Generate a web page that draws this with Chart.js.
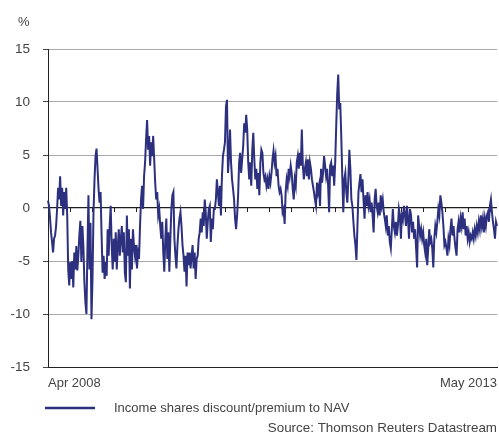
<!DOCTYPE html>
<html>
<head>
<meta charset="utf-8">
<script src="https://cdn.jsdelivr.net/npm/chart.js@4/dist/chart.umd.min.js"></script>
<style>
  html, body { margin: 0; padding: 0; background: #fff; }
  canvas { display: block; }
</style>
</head>
<body>
<canvas id="navChart" width="499" height="435"></canvas>
<script>
// income shares discount/premium to NAV, Apr 2008 - May 2013

const seg2008 = [0.7,0.2,-0.9,-2.3,-3.2,-4.2,-2.9,-2.6,-1.7,-0.1,1.9,0.8,3.0,0.2,1.9,-0.7,1.5,-0.1,1.9,-0.7,
  -5.8,-7.3,-5.1,-6.7,-5.0,-7.5,-4.2,-5.8,-3.6,-5.9,-4.5,-2.6,-1.2,-5.1,-1.7,-3.6,-7.0,-8.9,-10.0,-3.9,
  1.2,-5.8,-1.4,-10.5,-6.7,-0.4,2.7,4.9,5.6,3.7,1.8,0.5,1.5,-2.6,-6.1,-4.5,-6.7,-5.1,-6.4,-2.0,
  -4.5,-1.7,0.2,-3.6,-5.8,-2.9,-5.1,-2.3,-5.8,-3.6,-2.0,-4.5,-2.9,-1.7,-4.2,-2.3,-6.1,-7.0,-0.7,-4.5,
  -2.0,-7.6,-2.9,-5.8,-2.0,-3.6,-4.5];
const seg2009 = [-3.5,-5.7,-4.2,-4.8,-1.7,0.8,2.1,-0.1,3.0,4.3,6.5,8.3,5.5,6.8,4.0,6.2,4.9,6.8,4.6,2.4,
  0.8,1.5,-0.7,-0.1,-1.7,-2.9,-1.3,-4.2,-6.0,-2.9,-1.0,-4.8,-2.3,-6.0,-2.9,-0.1,1.2,1.5,-2.9,-4.5,
  -5.7,-3.5,-2.0,-1.0,-0.4,-1.7,-3.5,-4.5,-6.0,-4.5,-7.4,-4.2,-5.4,-4.2,-5.7,-4.5,-3.5,-5.7,-4.2,-6.7,
  -4.8,-4.5,-2.9,-2.3,-1.0,-2.3,-0.4,-1.7,0.8,-0.4,-2.9,-1.3,-0.1,0.2,-3.2,-1.0,-2.0,-0.1,-0.1,0.8,
  2.7,1.5,0.2,2.1,-0.7,3.0,4.9,5.5,6.2,9.6,10.2];
const seg2010 = [3.3,4.9,7.4,4.3,2.7,1.8,0.8,-1.0,-2.0,-0.7,1.2,4.3,5.2,3.3,4.6,5.8,8.0,7.1,8.8,7.4,
  4.3,2.7,4.3,2.1,5.5,7.1,4.6,2.7,3.7,1.8,3.3,1.2,4.3,5.5,5.2,3.3,2.7,3.0,2.1,2.7,
  1.8,3.0,2.4,3.3,4.6,5.4,4.3,4.9,3.0,3.7,2.1,1.5,1.8,1.2,-0.4,-0.1,-1.5,1.5,2.7,2.1,
  3.7,3.0,4.0,3.3,1.8,0.8,2.7,2.1,4.3,4.9,3.7,5.2,4.0,7.4,4.0,2.7,3.7,4.3,3.0,4.6,
  2.7,4.3,3.7,2.7,2.1,1.5,0.8,0.2,2.4,1.5,2.1,0.2];
const seg2011 = [3.7,2.4,3.3,4.9,4.0,3.0,3.7,2.1,-0.4,4.0,4.3,3.0,4.0,2.1,4.3,7.7,10.8,12.6,9.3,9.9,
  6.8,3.0,-0.4,2.7,3.3,1.5,0.5,2.7,5.5,3.7,0.8,0.2,-1.3,-2.6,-3.5,-4.9,-1.7,1.5,2.4,3.2,
  1.5,2.7,0.8,-1.0,1.2,0.2,1.5,0.2,0.8,-0.4,0.5,-0.7,-2.3,0.8,1.8,0.2,-0.4,0.5,-0.7,1.2,
  0.2,0.8,-0.4,-1.0,-1.7,-0.7,-2.6,-1.7,-3.2,-3.8,-2.0,-0.1,-1.7,-2.3,-1.3,-2.6,-1.7,-0.1,-0.7,-2.9,
  -0.4,-1.0,0.2,-0.7,-1.7,0.2,-1.0,-2.9,-0.1];
const seg2012 = [-0.7,-2.3,-1.3,-2.9,-2.0,-3.8,-5.6,-0.7,-1.7,-2.6,-2.0,-2.9,-2.3,-3.5,-4.2,-2.9,-5.4,-3.8,-2.0,-3.2,
  -2.9,-3.8,-5.6,-2.9,-1.7,-2.3,-1.3,-0.1,-0.7,1.2,0.5,-0.4,-1.7,-3.5,-3.2,-3.8,-4.5,-2.9,-3.5,-2.0,
  -1.0,-2.6,-1.7,-2.9,-3.8,-4.5,-2.0,-1.3,-2.3,-1.0,-1.7,-0.4,-2.0,-1.0,-2.6,-1.7,-2.9,-2.3,-3.2,-2.6,
  -2.9,-2.3,-2.9,-2.0,-2.6,-1.7,-2.3,-1.3,-2.0,-0.7,-1.7,-1.0,-2.3,-1.0,-1.7,-0.7,-0.4,-1.3,0.2,0.8,
  -0.4,-1.3,-2.0,-2.9,-1.3,-1.7];

const values = [...seg2008, ...seg2009, ...seg2010, ...seg2011, ...seg2012];
const tickLabels = ['Apr 2008', 'May 2013'];
const categories = values.map((v, i) => i === 0 ? tickLabels[0] : (i === values.length - 1 ? tickLabels[1] : ''));

const yTicks = [-15, -10, -5, 0, 5, 10, 15];
const totalMonths = 61;
const quarterMonths = [3,6,9,12,15,18,21,24,27,30,33,36,39,42,45,48,51,54,57,60];

const seriesLabel = 'Income shares discount/premium to NAV';
const sourceText = 'Source: Thomson Reuters Datastream';

const NAVY = '#2c307e';
const TEXT = '#444';
const FONT = "'Liberation Sans', Arial, sans-serif";

// little downward ticks on the zero line, every quarter
const zeroTicks = {
    id: 'zeroTicks',
    beforeDatasetsDraw(chart) {
        const { ctx, scales: { x, y } } = chart;
        const y0 = y.getPixelForValue(0);
        ctx.save();
        ctx.strokeStyle = '#222';
        ctx.lineWidth = 1;
        quarterMonths.forEach(m => {
            const px = Math.round(x.getPixelForValue(m / totalMonths * (values.length - 1))) + 0.5;
            ctx.beginPath();
            ctx.moveTo(px, y0);
            ctx.lineTo(px, y0 + 4);
            ctx.stroke();
        });
        ctx.restore();
    }
};

// unit label, legend and source line
const extras = {
    id: 'extras',
    afterDraw(chart) {
        const ctx = chart.ctx;
        ctx.save();
        ctx.fillStyle = TEXT;
        ctx.font = '13px ' + FONT;
        ctx.textBaseline = 'middle';
        ctx.textAlign = 'left';
        ctx.fillText('%', 18, 22);

        ctx.strokeStyle = NAVY;
        ctx.lineWidth = 2.5;
        ctx.beginPath();
        ctx.moveTo(45, 408);
        ctx.lineTo(95, 408);
        ctx.stroke();

        ctx.fillText(seriesLabel, 114, 408);
        ctx.textAlign = 'right';
        ctx.font = '13.4px ' + FONT;
        ctx.fillText(sourceText, 497, 428);
        ctx.restore();
    }
};

new Chart(document.getElementById('navChart'), {
    type: 'line',
    data: {
        labels: categories,
        datasets: [{
            label: seriesLabel,
            data: values,
            borderColor: NAVY,
            borderWidth: 2,
            pointRadius: 0,
            tension: 0,
            fill: false
        }]
    },
    options: {
        responsive: false,
        animation: false,
        layout: {
            padding: { left: 10, right: 2, top: 49, bottom: 44 }
        },
        scales: {
            x: {
                grid: { display: false, drawTicks: false },
                border: { display: true, color: '#222', width: 1 },
                afterBuildTicks: s => {
                    s.ticks = [s.ticks[0], s.ticks[s.ticks.length - 1]];
                },
                afterFit: s => {
                    s.height = 24;
                    s.paddingLeft = 0;
                    s.paddingRight = 0;
                },
                ticks: {
                    autoSkip: false,
                    maxRotation: 0,
                    align: 'inner',
                    padding: 9,
                    color: TEXT,
                    font: { family: FONT, size: 13 },
                    callback: function (val) { return this.getLabelForValue(val); }
                }
            },
            y: {
                min: -15,
                max: 15,
                afterBuildTicks: s => { s.ticks = yTicks.map(v => ({ value: v })); },
                afterFit: s => {
                    s.width = 38;
                    s.paddingTop = 0;
                    s.paddingBottom = 0;
                },
                grid: {
                    color: c => c.tick && c.tick.value === 0 ? '#1e1e1e' : '#a8a8a8',
                    lineWidth: c => c.tick && c.tick.value === 0 ? 1.3 : 1,
                    tickColor: '#444',
                    tickLength: 5
                },
                border: { display: true, color: '#222', width: 1 },
                ticks: {
                    padding: 13,
                    color: TEXT,
                    font: { family: FONT, size: 13.5 }
                }
            }
        },
        plugins: {
            legend: { display: false },
            tooltip: { enabled: false }
        }
    },
    plugins: [zeroTicks, extras]
});
</script>
</body>
</html>
